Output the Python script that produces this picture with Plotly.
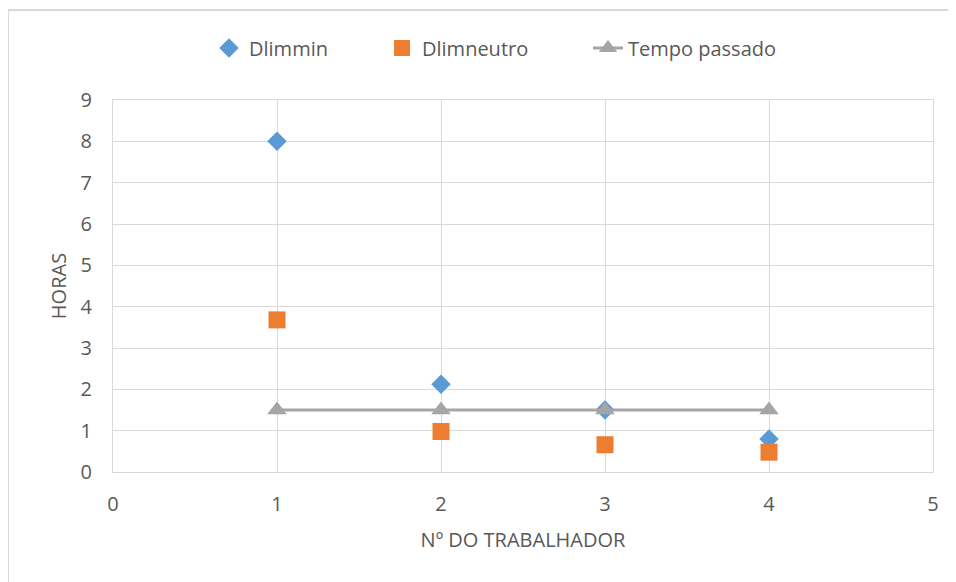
import plotly.graph_objects as go

trabalhador = [1, 2, 3, 4]
dlimmin = [8.0, 2.12, 1.5, 0.8]
dlimneutro = [3.68, 0.98, 0.66, 0.48]
tempo_passado = [1.5, 1.5, 1.5, 1.5]
x_ticks = [0, 1, 2, 3, 4, 5]
y_ticks = [0, 1, 2, 3, 4, 5, 6, 7, 8, 9]

FONT = "Open Sans"
TXT = "#595959"
GRID = "#d9d9d9"
FS = 20

# plot area in page pixels: x 113..933, y 100..472 (page body has 8px offset)
def px_x(p):
    return (p - 113) / 820

def px_y(p):
    return (472 - p) / 372

fig = go.Figure()
fig.add_trace(go.Scatter(x=trabalhador, y=dlimmin, mode="markers", name="Dlimmin",
                         marker=dict(symbol="diamond", size=15, color="#5B9BD5"),
                         legend="legend"))
fig.add_trace(go.Scatter(x=trabalhador, y=dlimneutro, mode="markers", name="Dlimneutro",
                         marker=dict(symbol="square", size=17, color="#ED7D31"),
                         legend="legend2"))
fig.add_trace(go.Scatter(x=trabalhador, y=tempo_passado, mode="lines+markers", name="Tempo passado",
                         line=dict(color="#A5A5A5", width=3),
                         marker=dict(symbol="triangle-up", size=17, color="#A5A5A5"),
                         legend="legend3"))

def leg(xpix):
    return dict(orientation="h", x=px_x(xpix), xanchor="left", y=px_y(48), yanchor="middle",
                bgcolor="rgba(0,0,0,0)", font=dict(size=FS, color=TXT))

fig.update_layout(
    width=956, height=582,
    margin=dict(l=105, r=31, t=92, b=118, autoexpand=False),
    paper_bgcolor="white", plot_bgcolor="white",
    font=dict(family=FONT, size=FS, color=TXT),
    showlegend=True,
    legend=leg(209), legend2=leg(382), legend3=leg(588),
    xaxis=dict(range=[0, 5], tickvals=x_ticks, showgrid=True, gridcolor=GRID, gridwidth=1,
               showline=True, linecolor=GRID, mirror=True, zeroline=False, ticks="",
               ticklabelstandoff=14,
               tickfont=dict(size=FS, color=TXT),
               title=dict(text="Nº DO TRABALHADOR", font=dict(size=FS, color=TXT), standoff=16)),
    yaxis=dict(range=[0, 9], tickvals=y_ticks, showgrid=True, gridcolor=GRID, gridwidth=1,
               showline=True, linecolor=GRID, mirror=True, zeroline=False, ticks="",
               ticklabelstandoff=16,
               tickfont=dict(size=FS, color=TXT),
               title=dict(text="HORAS", font=dict(size=FS, color=TXT), standoff=8)),
    shapes=[dict(type="rect", xref="paper", yref="paper",
                 x0=px_x(8), x1=px_x(975), y0=px_y(600), y1=px_y(10),
                 line=dict(color=GRID, width=2), fillcolor="rgba(0,0,0,0)", layer="below")],
)

fig.write_html("out.html")
